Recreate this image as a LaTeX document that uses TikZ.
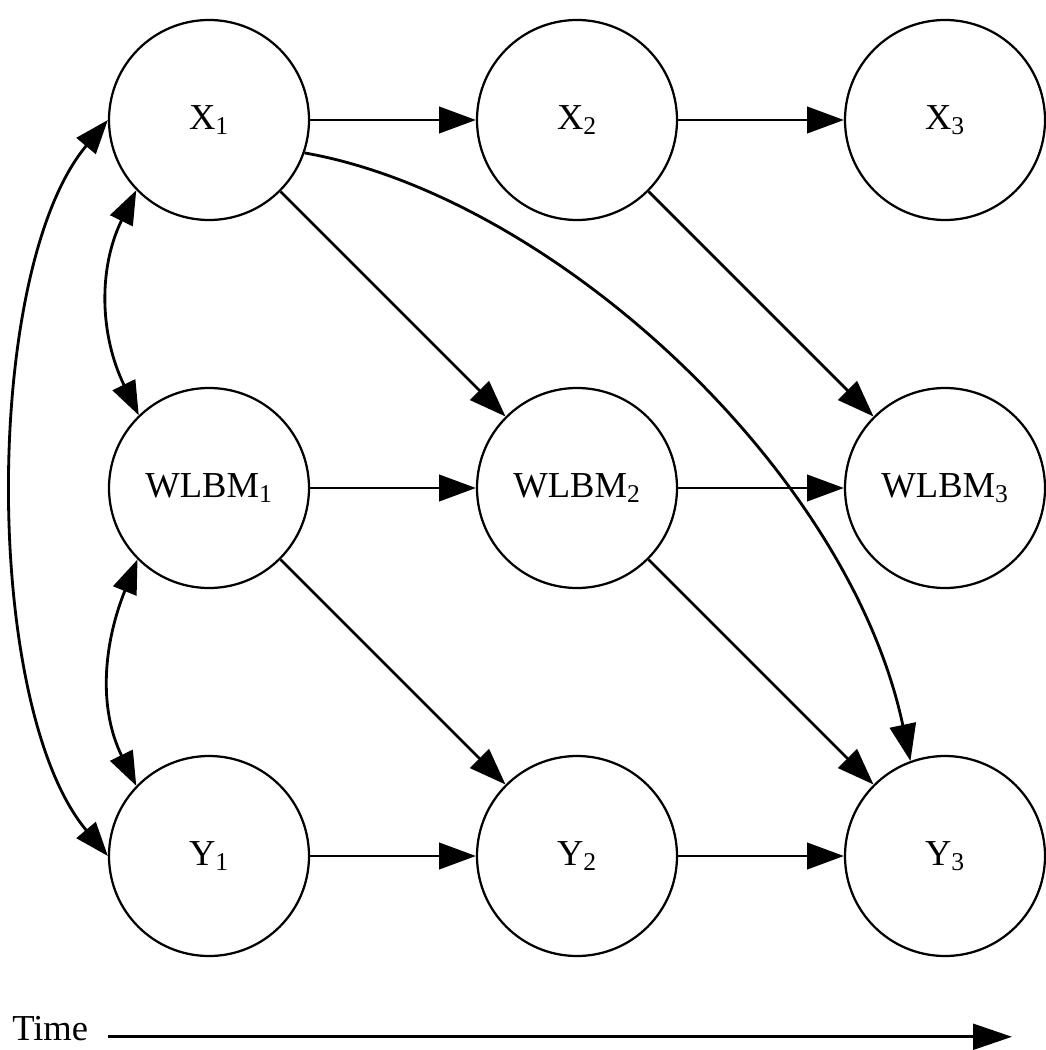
\documentclass[tikz,border=0pt]{standalone}
\usepackage{fontspec}
\setmainfont{Liberation Serif}
\usetikzlibrary{arrows.meta, positioning}

\begin{document}
\begin{tikzpicture}[
    var/.style={circle, draw, line width=1.6pt, fill=white, minimum size=5cm, inner sep=0pt, font=\fontsize{26}{31}\selectfont},
    link/.style={-{Triangle[length=0.92cm, width=0.66cm]}, line width=2pt},
    both/.style={{Triangle[length=0.85cm, width=0.62cm]}-{Triangle[length=0.85cm, width=0.62cm]}, line width=2pt},
    node distance=9.2cm, on grid
  ]
    \useasboundingbox (-5.225,3.0) rectangle (20.9,-23.25);

    % three rows of variables, one column per time step
    \node[var] (x1) {X\textsubscript{1}};
    \node[var, right=of x1] (x2) {X\textsubscript{2}};
    \node[var, right=of x2] (x3) {X\textsubscript{3}};
    \node[var, below=of x1] (w1) {WLBM\textsubscript{1}};
    \node[var, right=of w1] (w2) {WLBM\textsubscript{2}};
    \node[var, right=of w2] (w3) {WLBM\textsubscript{3}};
    \node[var, below=of w1] (y1) {Y\textsubscript{1}};
    \node[var, right=of y1] (y2) {Y\textsubscript{2}};
    \node[var, right=of y2] (y3) {Y\textsubscript{3}};

    % autoregressive paths
    \draw[link] (x1) -- (x2);
    \draw[link] (x2) -- (x3);
    \draw[link] (w1) -- (w2);
    \draw[link] (w2) -- (w3);
    \draw[link] (y1) -- (y2);
    \draw[link] (y2) -- (y3);

    % cross-lagged paths
    \draw[link] (x1) -- (w2);
    \draw[link] (x2) -- (w3);
    \draw[link] (w1) -- (y2);
    \draw[link] (w2) -- (y3);
    \draw[link] (x1.-19) to[out=-10, in=102, out distance=6.25cm, in distance=7.5cm] (y3.110);

    % correlations at the first wave
    \draw[both] (x1.-136) to[out=-116, in=116] (w1.134);
    \draw[both] (w1.-135) to[out=-112, in=116] (y1.136);
    \draw[both] (x1.180) to[out=-130, in=130, looseness=0.68] (y1.180);

    % time axis
    \node[font=\fontsize{26}{31}\selectfont, inner sep=0pt, anchor=base west] (time) at (-4.925,-23.0) {Time};
    \coordinate (tend) at (20.075,0);
    \draw[-{Triangle[length=0.97cm, width=0.64cm]}, line width=2.2pt] ([xshift=0.5cm]time.mid east) -- (time.mid east -| tend);
\end{tikzpicture}
\end{document}
